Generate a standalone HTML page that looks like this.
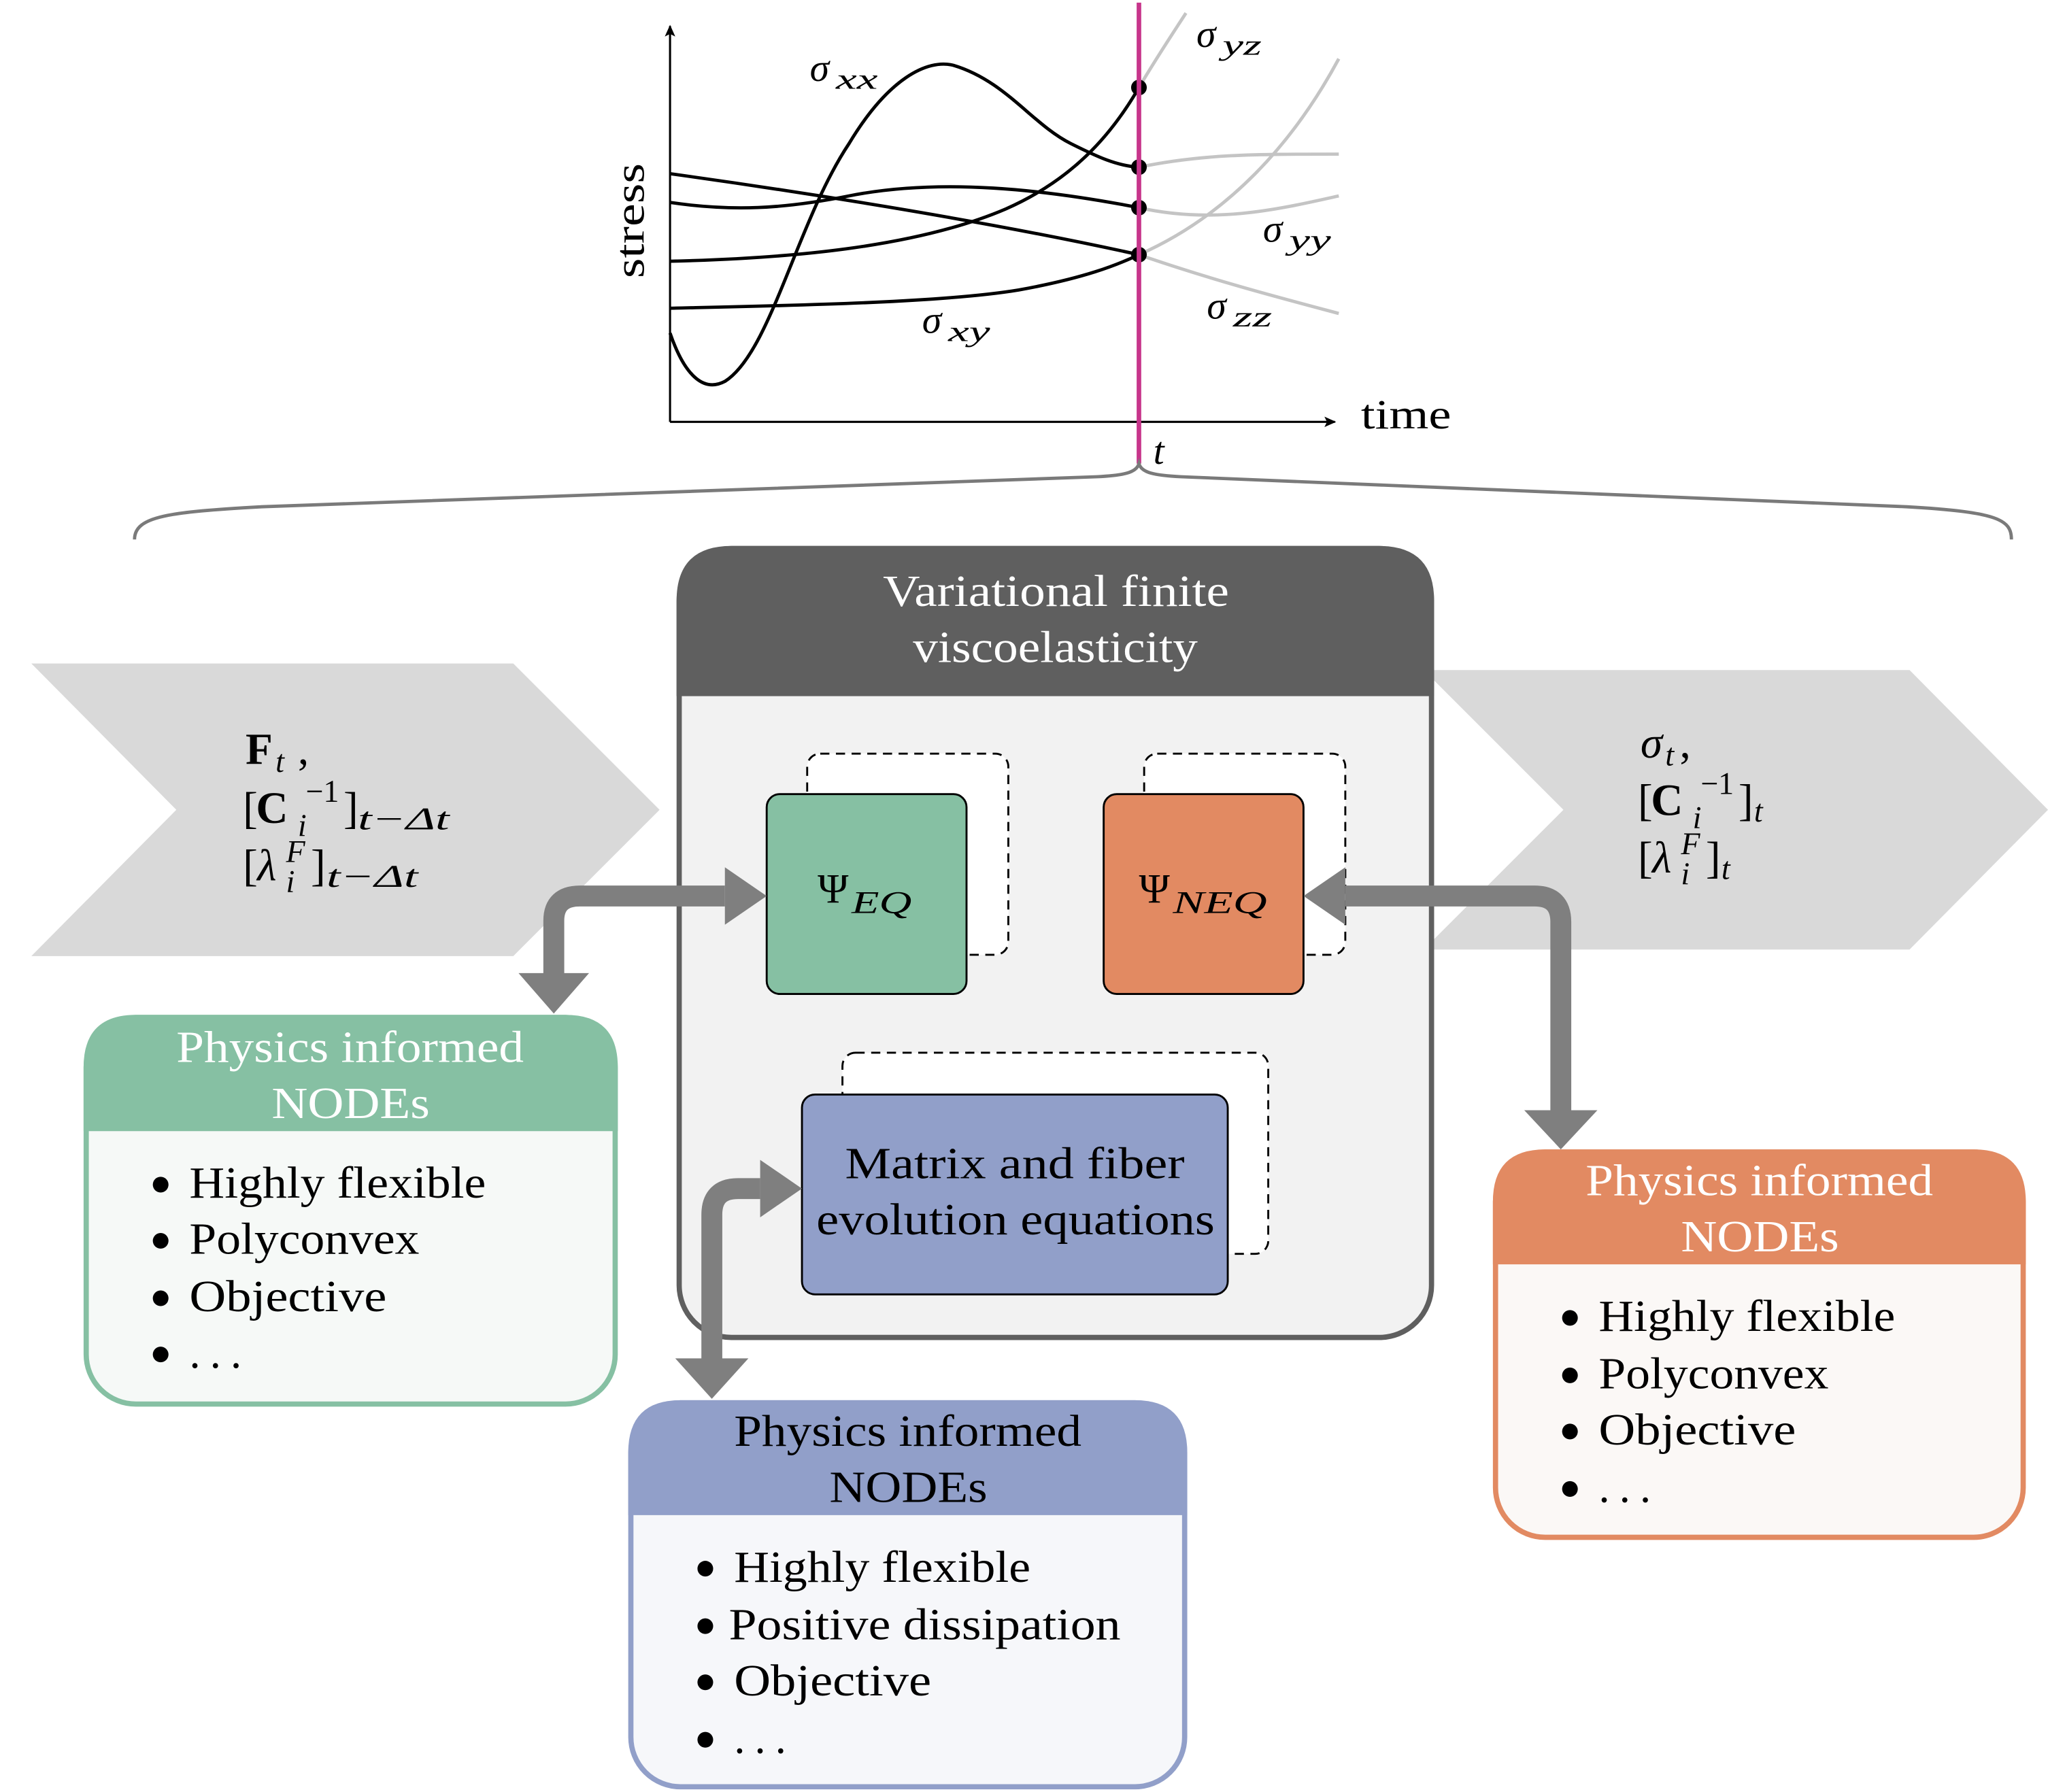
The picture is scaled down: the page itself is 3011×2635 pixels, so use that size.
<!DOCTYPE html>
<html><head><meta charset="utf-8"><style>
html,body{margin:0;padding:0;background:#fff;}
svg{display:block;}
text{font-family:"Liberation Serif",serif;}
</style></head><body>
<svg width="3011" height="2635" viewBox="0 0 1568 1372" preserveAspectRatio="none" xmlns="http://www.w3.org/2000/svg">
<defs>
<marker id="ah" markerWidth="10" markerHeight="10" refX="8" refY="5" orient="auto" markerUnits="userSpaceOnUse"><path d="M0,1 L9,5 L0,9 L2,5Z" fill="#000"/></marker>
</defs>
<!-- plot -->
<line x1="513" y1="323" x2="513" y2="20" stroke="#000" stroke-width="1.6" marker-end="url(#ah)"/>
<line x1="513" y1="323" x2="1022" y2="323" stroke="#000" stroke-width="1.6" marker-end="url(#ah)"/>
<text x="493" y="169" font-size="32" transform="rotate(-90 493 169)" text-anchor="middle" textLength="88" lengthAdjust="spacingAndGlyphs">stress</text>
<text x="1042" y="328" font-size="32" textLength="69" lengthAdjust="spacingAndGlyphs">time</text>
<g fill="none" stroke="#c4c4c4" stroke-width="2.5">
<path d="M872,128 C920,118 960,118 1025,118"/>
<path d="M872,195 C930,215 980,228 1025,240"/>
<path d="M872,159 C930,172 980,160 1025,150"/>
<path d="M872,67 C885,45 895,30 908,10"/>
<path d="M872,195 C940,165 990,110 1025,45"/>
</g>
<g fill="none" stroke="#000" stroke-width="2.5">
<path d="M513,255 C525,290 540,300 555,292 C590,270 610,170 650,110 C680,60 710,45 730,50 C770,62 790,95 820,110 C840,120 855,127 872,128"/>
<path d="M513,133 C600,145 750,168 872,195"/>
<path d="M513,155 C560,162 600,160 650,150 C720,136 800,145 872,159"/>
<path d="M513,200 C600,198 700,190 770,160 C820,138 850,105 872,67"/>
<path d="M513,236 C600,234 720,232 780,222 C830,213 855,203 872,195"/>
</g>
<g fill="#000"><circle cx="872" cy="67" r="6"/><circle cx="872" cy="128" r="6"/><circle cx="872" cy="159" r="6"/><circle cx="872" cy="195" r="6"/></g>
<line x1="872" y1="2" x2="872" y2="355" stroke="#c7358b" stroke-width="3.5"/>
<g font-size="30" font-style="italic">
<text x="620" y="62">σ</text><text x="640" y="68" font-size="22" textLength="32" lengthAdjust="spacingAndGlyphs">xx</text>
<text x="916" y="36">σ</text><text x="936" y="42" font-size="22" textLength="30" lengthAdjust="spacingAndGlyphs">yz</text>
<text x="967" y="185">σ</text><text x="987" y="191" font-size="22" textLength="32" lengthAdjust="spacingAndGlyphs">yy</text>
<text x="924" y="244">σ</text><text x="944" y="250" font-size="22" textLength="30" lengthAdjust="spacingAndGlyphs">zz</text>
<text x="706" y="255">σ</text><text x="726" y="261" font-size="22" textLength="32" lengthAdjust="spacingAndGlyphs">xy</text>
<text x="883" y="355">t</text>
</g>
<!-- brace -->
<path d="M103,413 C103,395 130,392 200,388 L840,365 C860,364 870,362 872,355 C874,362 884,364 904,365 L1460,388 C1530,392 1540,398 1540,413" fill="none" stroke="#7a7a7a" stroke-width="2.5"/>
<!-- chevrons -->
<polygon points="24,508 393,508 505,620 393,732 24,732 135,620" fill="#d9d9d9"/>
<polygon points="1090,513 1462,513 1568,620 1462,727 1090,727 1197,620" fill="#d9d9d9"/>
<g font-size="34">
<text x="188" y="585" font-weight="bold">F</text><text x="211" y="591" font-size="24" font-style="italic">t</text><text x="228" y="585">,</text>
<text x="186" y="630">[</text><text x="196" y="630" font-weight="bold">C</text><text x="234" y="614" font-size="24">−1</text><text x="228" y="640" font-size="24" font-style="italic">i</text><text x="263" y="630">]</text><text x="274" y="635" font-size="24" font-style="italic" textLength="70" lengthAdjust="spacingAndGlyphs">t−Δt</text>
<text x="186" y="674">[</text><text x="197" y="674" font-style="italic">λ</text><text x="219" y="634" font-size="24" font-style="italic" dy="0" transform="translate(0,26)">F</text><text x="219" y="683" font-size="24" font-style="italic">i</text><text x="238" y="674">]</text><text x="250" y="679" font-size="24" font-style="italic" textLength="70" lengthAdjust="spacingAndGlyphs">t−Δt</text>
<text x="1256" y="580" font-style="italic">σ</text><text x="1275" y="586" font-size="24" font-style="italic">t</text><text x="1286" y="580">,</text>
<text x="1254" y="624">[</text><text x="1264" y="624" font-weight="bold">C</text><text x="1302" y="608" font-size="24">−1</text><text x="1296" y="634" font-size="24" font-style="italic">i</text><text x="1331" y="624">]</text><text x="1343" y="629" font-size="24" font-style="italic">t</text>
<text x="1254" y="668">[</text><text x="1265" y="668" font-style="italic">λ</text><text x="1287" y="654" font-size="24" font-style="italic">F</text><text x="1287" y="677" font-size="24" font-style="italic">i</text><text x="1306" y="668">]</text><text x="1318" y="673" font-size="24" font-style="italic">t</text>
</g>
<!-- central box -->
<rect x="520" y="420" width="576" height="604" rx="40" fill="#f2f2f2" stroke="#5f5f5f" stroke-width="4"/>
<path d="M518,533 L518,460 Q518,418 560,418 L1056,418 Q1098,418 1098,460 L1098,533Z" fill="#5f5f5f"/>
<text x="676" y="464" font-size="34" fill="#fff" textLength="265" lengthAdjust="spacingAndGlyphs">Variational finite</text>
<text x="699" y="507" font-size="34" fill="#fff" textLength="218" lengthAdjust="spacingAndGlyphs">viscoelasticity</text>
<g fill="#fff" stroke="#000" stroke-width="1.5" stroke-dasharray="7,5">
<rect x="618" y="577" width="154" height="154" rx="10"/>
<rect x="876" y="577" width="154" height="154" rx="10"/>
<rect x="645" y="806" width="326" height="154" rx="10"/>
</g>
<rect x="587" y="608" width="153" height="153" rx="10" fill="#86c0a3" stroke="#000" stroke-width="1.5"/>
<rect x="845" y="608" width="153" height="153" rx="10" fill="#e28a62" stroke="#000" stroke-width="1.5"/>
<rect x="614" y="838" width="326" height="153" rx="10" fill="#919fc9" stroke="#000" stroke-width="1.5"/>
<text x="626" y="691" font-size="32">Ψ</text><text x="652" y="699" font-size="24" font-style="italic" textLength="46" lengthAdjust="spacingAndGlyphs">EQ</text>
<text x="872" y="691" font-size="32">Ψ</text><text x="898" y="699" font-size="24" font-style="italic" textLength="72" lengthAdjust="spacingAndGlyphs">NEQ</text>
<text x="647" y="902" font-size="34" textLength="260" lengthAdjust="spacingAndGlyphs">Matrix and fiber</text>
<text x="625" y="945" font-size="34" textLength="305" lengthAdjust="spacingAndGlyphs">evolution equations</text>
<!-- green card -->
<rect x="66" y="779" width="405" height="296" rx="38" fill="#f6f9f7" stroke="#86c0a3" stroke-width="4"/>
<path d="M64,866 L64,817 Q64,777 104,777 L433,777 Q473,777 473,817 L473,866Z" fill="#86c0a3"/>
<text x="135" y="813" font-size="34" fill="#fff" textLength="266" lengthAdjust="spacingAndGlyphs">Physics informed</text>
<text x="208" y="856" font-size="34" fill="#fff" textLength="121" lengthAdjust="spacingAndGlyphs">NODEs</text>
<g font-size="34">
<circle cx="123" cy="907" r="6"/><text x="145" y="917" textLength="227" lengthAdjust="spacingAndGlyphs">Highly flexible</text>
<circle cx="123" cy="950" r="6"/><text x="145" y="960" textLength="176" lengthAdjust="spacingAndGlyphs">Polyconvex</text>
<circle cx="123" cy="994" r="6"/><text x="145" y="1004" textLength="151" lengthAdjust="spacingAndGlyphs">Objective</text>
<circle cx="123" cy="1037" r="6"/><text x="145" y="1047" textLength="40" lengthAdjust="spacing">...</text>
</g>
<!-- blue card -->
<rect x="483" y="1074" width="424" height="294" rx="38" fill="#f6f7fa" stroke="#919fc9" stroke-width="4"/>
<path d="M481,1160 L481,1112 Q481,1072 521,1072 L869,1072 Q909,1072 909,1112 L909,1160Z" fill="#919fc9"/>
<text x="562" y="1107" font-size="34" textLength="266" lengthAdjust="spacingAndGlyphs">Physics informed</text>
<text x="635" y="1150" font-size="34" textLength="121" lengthAdjust="spacingAndGlyphs">NODEs</text>
<g font-size="34">
<circle cx="540" cy="1201" r="6"/><text x="562" y="1211" textLength="227" lengthAdjust="spacingAndGlyphs">Highly flexible</text>
<circle cx="540" cy="1245" r="6"/><text x="558" y="1255" textLength="300" lengthAdjust="spacingAndGlyphs">Positive dissipation</text>
<circle cx="540" cy="1288" r="6"/><text x="562" y="1298" textLength="151" lengthAdjust="spacingAndGlyphs">Objective</text>
<circle cx="540" cy="1332" r="6"/><text x="562" y="1342" textLength="40" lengthAdjust="spacing">...</text>
</g>
<!-- orange card -->
<rect x="1145" y="882" width="404" height="295" rx="38" fill="#fbf8f6" stroke="#e28a62" stroke-width="4"/>
<path d="M1143,968 L1143,920 Q1143,880 1183,880 L1511,880 Q1551,880 1551,920 L1551,968Z" fill="#e28a62"/>
<text x="1214" y="915" font-size="34" fill="#fff" textLength="266" lengthAdjust="spacingAndGlyphs">Physics informed</text>
<text x="1287" y="958" font-size="34" fill="#fff" textLength="121" lengthAdjust="spacingAndGlyphs">NODEs</text>
<g font-size="34">
<circle cx="1202" cy="1009" r="6"/><text x="1224" y="1019" textLength="227" lengthAdjust="spacingAndGlyphs">Highly flexible</text>
<circle cx="1202" cy="1053" r="6"/><text x="1224" y="1063" textLength="176" lengthAdjust="spacingAndGlyphs">Polyconvex</text>
<circle cx="1202" cy="1096" r="6"/><text x="1224" y="1106" textLength="151" lengthAdjust="spacingAndGlyphs">Objective</text>
<circle cx="1202" cy="1140" r="6"/><text x="1224" y="1150" textLength="40" lengthAdjust="spacing">...</text>
</g>
<!-- thick arrows -->
<g fill="none" stroke="#7f7f7f" stroke-width="16">
<path d="M424,748 L424,705 Q424,686 444,686 L555,686"/>
<path d="M1030,686 L1175,686 Q1195,686 1195,706 L1195,852"/>
<path d="M582,910 L565,910 Q545,910 545,930 L545,1042"/>
</g>
<g fill="#7f7f7f">
<polygon points="397,745 451,745 424,776"/>
<polygon points="555,664 555,708 587,686"/>
<polygon points="1030,664 1030,708 998,686"/>
<polygon points="1167,850 1223,850 1195,880"/>
<polygon points="582,888 582,932 614,910"/>
<polygon points="517,1040 573,1040 545,1071"/>
</g>
</svg>
</body></html>
